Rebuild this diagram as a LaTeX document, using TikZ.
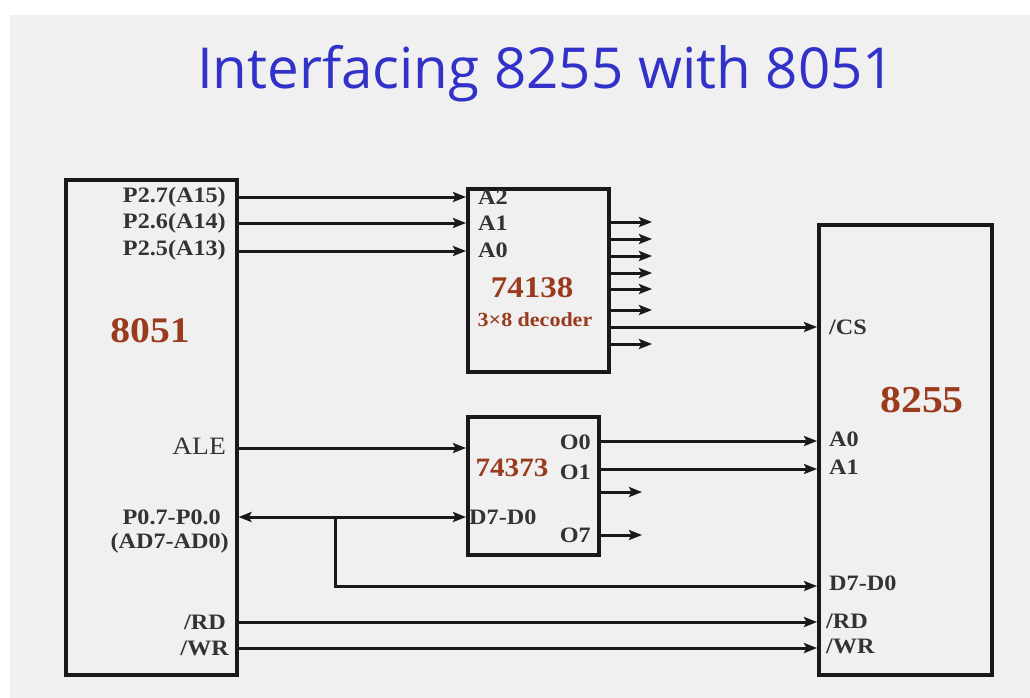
\documentclass[tikz,border=0pt]{standalone}
\usepackage{fontspec}
\setmainfont{Liberation Serif}[FakeStretch=1.1]
\newfontfamily\titlefont{Open Sans}
\usetikzlibrary{arrows.meta}
\definecolor{bg}{HTML}{F0F0F0}
\definecolor{chipbrown}{HTML}{9A3B1E}
\definecolor{titleblue}{HTML}{3232C8}
\tikzset{
  tip/.tip={Stealth[length=13pt,width=10pt,inset=2.5pt]},
  box/.style={draw=black!90, line width=3.5pt, anchor=north west, inner sep=0pt},
  wire/.style={draw=black!90, line width=3pt, -tip},
  bothwire/.style={draw=black!90, line width=3pt, tip-tip},
  lbl/.style={font=\fontsize{22}{24}\selectfont\bfseries, inner sep=0pt, text=black!80},
  chip/.style={font=\bfseries, text=chipbrown, inner sep=0pt},
}
\begin{document}
\begin{tikzpicture}[x=1pt,y=-1pt]
\useasboundingbox (0,0) rectangle (1030,698);
\fill[white] (0,0) rectangle (1030,698);
\fill[bg] (10,15) rectangle (1030,698);

\node[font=\titlefont\fontsize{56.5}{62}\selectfont, text=titleblue, inner sep=0pt] (title) at (546,74) {Interfacing 8255 with 8051};

% boxes
\node[box, minimum width=171pt, minimum height=495pt] (m8051) at (64,178) {};
\node[box, minimum width=141pt, minimum height=183pt] (dec) at (466,187) {};
\node[box, minimum width=131pt, minimum height=138pt] (latch) at (466,415) {};
\node[box, minimum width=173pt, minimum height=450pt] (ppi) at (817,223) {};

% 8051 labels
\node[lbl, anchor=east] (p27) at (226,197) {P2.7(A15)};
\node[lbl, anchor=east] (p26) at (226,223) {P2.6(A14)};
\node[lbl, anchor=east] (p25) at (226,250) {P2.5(A13)};
\node[chip, font=\fontsize{36}{40}\selectfont\bfseries] (n8051) at (150,331) {8051};
\node[inner sep=0pt, anchor=east, font=\fontsize{25}{28}\selectfont, text=black!80] (ale) at (226,446) {ALE};
\node[lbl, anchor=east] (p0) at (221,517) {P0.7-P0.0};
\node[lbl, anchor=east] (ad) at (229,543) {(AD7-AD0)};
\node[lbl, anchor=east] (rd) at (226,622) {/RD};
\node[lbl, anchor=east] (wr) at (229,648) {/WR};

% decoder labels
\node[lbl, anchor=west] (da2) at (478,197) {A2};
\node[lbl, anchor=west] (da1) at (478,223) {A1};
\node[lbl, anchor=west] (da0) at (478,250) {A0};
\node[chip, font=\fontsize{30}{34}\selectfont\bfseries] (n74138) at (532,288) {74138};
\node[chip, font=\fontsize{20}{24}\selectfont\bfseries] (decname) at (535,320) {3\texttimes8 decoder};

% latch labels
\node[chip, font=\fontsize{26.5}{30}\selectfont\bfseries] (n74373) at (512,468) {74373};
\node[lbl, anchor=east] (lo0) at (591,442) {O0};
\node[lbl, anchor=east] (lo1) at (591,472) {O1};
\node[lbl, anchor=east] (lo7) at (591,535) {O7};
\node[lbl, anchor=west] (ld) at (469,517) {D7-D0};

% 8255 labels
\node[chip, font=\fontsize{38}{42}\selectfont\bfseries] (n8255) at (922,400) {8255};
\node[lbl, anchor=west] (cs) at (829,327) {/CS};
\node[lbl, anchor=west] (pa0) at (829,439) {A0};
\node[lbl, anchor=west] (pa1) at (829,467) {A1};
\node[lbl, anchor=west] (pd) at (829,583) {D7-D0};
\node[lbl, anchor=west] (prd) at (826,621) {/RD};
\node[lbl, anchor=west] (pwr) at (826,646) {/WR};

% address lines to decoder
\draw[wire] (m8051.east |- 0,197) -- (dec.west |- 0,197);
\draw[wire] (m8051.east |- 0,223) -- (dec.west |- 0,223);
\draw[wire] (m8051.east |- 0,251) -- (dec.west |- 0,251);

% decoder outputs
\foreach \yy [count=\i] in {222,239,256,273,289,310,344}{
  \coordinate (dout\i) at (652,\yy);
  \draw[wire] (dec.east |- dout\i) -- (dout\i);
}
\draw[wire] (dec.east |- 0,327) -- (ppi.west |- 0,327);

% ALE and AD bus
\draw[wire] (m8051.east |- 0,448) -- (latch.west |- 0,448);
\draw[bothwire] (m8051.east |- 0,517) -- (latch.west |- 0,517);
\coordinate (tap) at (335,517);
\draw[wire] (tap) |- (ppi.west |- 0,586);

% latch outputs
\draw[wire] (latch.east |- 0,441) -- (ppi.west |- 0,441);
\draw[wire] (latch.east |- 0,469) -- (ppi.west |- 0,469);
\coordinate (lout2) at (642,492);
\coordinate (lout7) at (642,535);
\draw[wire] (latch.east |- lout2) -- (lout2);
\draw[wire] (latch.east |- lout7) -- (lout7);

% RD / WR
\draw[wire] (m8051.east |- 0,622) -- (ppi.west |- 0,622);
\draw[wire] (m8051.east |- 0,648) -- (ppi.west |- 0,648);
\end{tikzpicture}
\end{document}
